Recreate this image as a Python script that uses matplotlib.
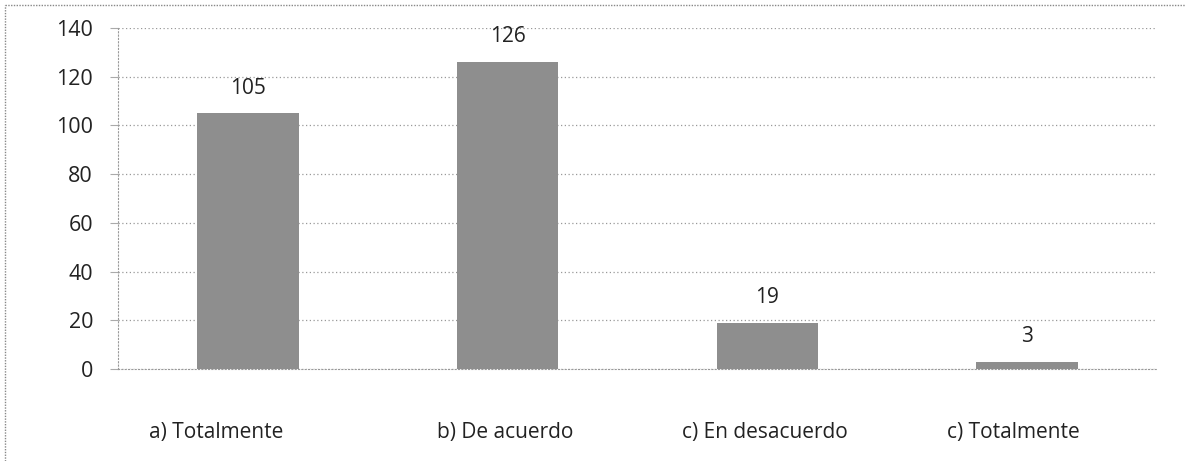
import matplotlib.pyplot as plt
from matplotlib.lines import Line2D

categories = ['a) Totalmente', 'b) De acuerdo', 'c) En desacuerdo', 'c) Totalmente']
values = [105, 126, 19, 3]
yticks = [0, 20, 40, 60, 80, 100, 120, 140]

W, H = 1185, 461
fig = plt.figure(figsize=(W / 100, H / 100), dpi=100)
plt.rcParams['font.family'] = ['Open Sans', 'DejaVu Sans']

# axes box in pixels: left 118, right 1157, y(0)=369, y(140)=28
ax = fig.add_axes([118 / W, 1 - 369 / H, (1157 - 118) / W, (369 - 28) / H])

x = list(range(len(categories)))
ax.bar(x, values, width=0.39, color='#8e8e8e', zorder=3)
for i, v in enumerate(values):
    ax.text(i, v + 6, str(v), ha='center', va='bottom', fontsize=15, color='#222222')

ax.set_ylim(0, 140)
ax.set_xlim(-0.5, len(categories) - 0.5)
ax.set_yticks(yticks)
ax.set_yticklabels([str(t) for t in yticks], fontsize=15.5, color='#222222')
ax.yaxis.grid(True, linestyle=(0, (1, 2)), color='#999999', linewidth=0.9)
ax.tick_params(axis='y', length=6, color='#aaaaaa', pad=12, direction='out')

# category labels sit a little left of the bars in the original
label_shift = [-0.123, -0.01, -0.008, -0.054]
ax.set_xticks([i + s for i, s in zip(x, label_shift)])
ax.set_xticklabels(categories)
ax.tick_params(axis='x', length=0, pad=38, labelsize=15, labelcolor='#222222')

for s in ['top', 'right']:
    ax.spines[s].set_visible(False)
ax.spines['left'].set_linestyle((0, (1, 2)))
ax.spines['left'].set_color('#999999')
ax.spines['bottom'].set_linestyle((0, (1, 2)))
ax.spines['bottom'].set_color('#999999')

# outer frame (top and left edges visible)
fig.add_artist(Line2D([5 / W, 1], [1 - 5 / H, 1 - 5 / H], transform=fig.transFigure,
                      color='#888888', linestyle=(0, (1, 1)), linewidth=1))
fig.add_artist(Line2D([5 / W, 5 / W], [0, 1 - 5 / H], transform=fig.transFigure,
                      color='#888888', linestyle=(0, (1, 1)), linewidth=1))

fig.savefig('out.png', dpi=100)
